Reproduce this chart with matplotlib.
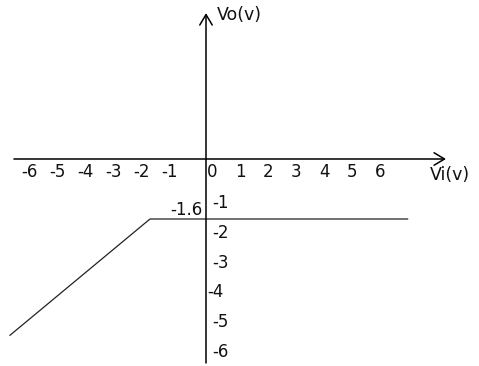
import numpy as np
import matplotlib
matplotlib.use('Agg')
import matplotlib.pyplot as plt

# transfer curve Vo vs Vi (volts)
vi = [-7.0, -2.0, 7.2]
vo = [-4.7, -1.6, -1.6]

x_ticks = [-6, -5, -4, -3, -2, -1, 0, 1, 2, 3, 4, 5, 6]
y_ticks = [-1, -2, -3, -4, -5, -6]
knee_label = '-1.6'
x_name = 'Vi(v)'
y_name = 'Vo(v)'

plt.rcParams['font.family'] = ['DejaVu Sans']

fig = plt.figure(figsize=(4.79, 3.66), dpi=100)
ax = fig.add_axes([0, 0, 1, 1])
# 1 V = 28 px horizontally, 37.5 px vertically, origin at pixel (206, 159)
ax.set_xlim(-206 / 28, (479 - 206) / 28)
ax.set_ylim(-(366 - 159) / 37.5, 159 / 37.5)
ax.axis('off')

arrow = dict(arrowstyle='->,head_length=0.75,head_width=0.45', lw=1.1,
             color='black', shrinkA=0, shrinkB=0, mutation_scale=10)
ax.annotate('', xy=(8.57, 0), xytext=(-6.86, 0), arrowprops=arrow)
ax.annotate('', xy=(0, 3.89), xytext=(0, -5.44), arrowprops=arrow)

ax.plot(vi, vo, color='#222222', lw=0.9)

fs = 12
for v in x_ticks:
    shift = -0.3 if v < 0 else 0.22
    ax.text(v + shift, -0.35, str(v), ha='center', va='center', fontsize=fs,
            color='#111111')

for k, v in enumerate(y_ticks):
    ypix = 203 + 29.8 * k
    xoff = 0.04 if v == -4 else 0.21
    ax.text(xoff, -(ypix - 159) / 37.5, str(v), ha='left', va='center',
            fontsize=fs, color='#111111')

ax.text(-0.11, -1.36, knee_label, ha='right', va='center', fontsize=fs,
        color='#111111')
ax.text(0.39, 3.84, y_name, ha='left', va='center', fontsize=12.5,
        color='#111111')
ax.text(8.0, -0.43, x_name, ha='left', va='center', fontsize=12.5,
        color='#111111')

fig.savefig('out.png', dpi=100)
